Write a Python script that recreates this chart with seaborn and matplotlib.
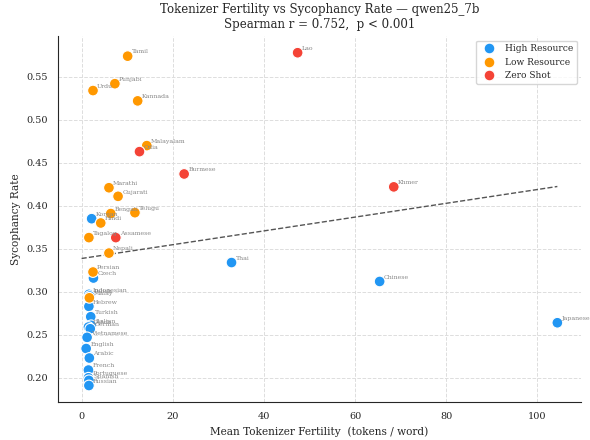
import numpy as np
import pandas as pd
import matplotlib
matplotlib.use('Agg')
import matplotlib.pyplot as plt
import seaborn as sns

# languages, fertility, sycophancy rate, group
high_langs = ['Korean', 'Thai', 'Czech', 'Chinese', 'Japanese', 'Indonesian', 'Polish',
              'Hebrew', 'Turkish', 'Italian', 'Dutch', 'German', 'Vietnamese', 'English',
              'Arabic', 'French', 'Portuguese', 'Spanish', 'Russian']
high_fert = [2.2, 32.9, 2.6, 65.4, 104.4, 1.6, 1.8,
             1.6, 2.0, 2.1, 1.5, 1.9, 1.2, 1.0,
             1.7, 1.5, 1.5, 1.6, 1.6]
high_syc = [0.385, 0.334, 0.316, 0.312, 0.264, 0.297, 0.295,
            0.283, 0.271, 0.261, 0.259, 0.257, 0.247, 0.234,
            0.223, 0.209, 0.200, 0.197, 0.191]

low_langs = ['Tamil', 'Punjabi', 'Urdu', 'Kannada', 'Malayalam', 'Marathi', 'Gujarati',
             'Bengali', 'Telugu', 'Hindi', 'Tagalog', 'Nepali', 'Persian', 'Malay']
low_fert = [10.1, 7.3, 2.5, 12.3, 14.3, 6.0, 8.0,
            6.4, 11.7, 4.2, 1.6, 6.0, 2.5, 1.7]
low_syc = [0.574, 0.542, 0.534, 0.522, 0.470, 0.421, 0.411,
           0.391, 0.392, 0.380, 0.363, 0.345, 0.323, 0.293]

zero_langs = ['Lao', 'Odia', 'Burmese', 'Khmer', 'Assamese']
zero_fert = [47.4, 12.7, 22.5, 68.5, 7.5]
zero_syc = [0.578, 0.463, 0.437, 0.422, 0.363]

df = pd.concat([
    pd.DataFrame({'lang': high_langs, 'fert': high_fert, 'syc': high_syc, 'group': 'High Resource'}),
    pd.DataFrame({'lang': low_langs, 'fert': low_fert, 'syc': low_syc, 'group': 'Low Resource'}),
    pd.DataFrame({'lang': zero_langs, 'fert': zero_fert, 'syc': zero_syc, 'group': 'Zero Shot'}),
], ignore_index=True)

palette = {'High Resource': '#2196F3', 'Low Resource': '#FF9800', 'Zero Shot': '#F44336'}

sns.set_style('white')
plt.rcParams['font.family'] = ['DejaVu Serif']

fig, ax = plt.subplots(figsize=(5.9, 4.4), dpi=100)
sns.scatterplot(data=df, x='fert', y='syc', hue='group', palette=palette,
                s=60, edgecolor='white', linewidth=0.8, ax=ax, zorder=3)

for _, r in df.iterrows():
    ax.annotate(r['lang'], (r['fert'], r['syc']), xytext=(3, 2), textcoords='offset points',
                fontsize=4.5, color='#888888')

# linear trend line
m, b = np.polyfit(df['fert'], df['syc'], 1)
xs = np.linspace(0, df['fert'].max(), 50)
ax.plot(xs, m * xs + b, '--', color='#555555', linewidth=1.0, zorder=2)

ax.grid(True, linestyle='--', color='#dddddd', linewidth=0.7)
sns.despine(ax=ax)
ax.set_xlabel('Mean Tokenizer Fertility  (tokens / word)', fontsize=7.6)
ax.set_ylabel('Sycophancy Rate', fontsize=7.6)
ax.set_title('Tokenizer Fertility vs Sycophancy Rate — qwen25_7b\nSpearman r = 0.752,  p < 0.001',
             fontsize=8.5)
ax.tick_params(labelsize=7)
ax.yaxis.set_major_formatter(matplotlib.ticker.FormatStrFormatter('%.2f'))
ax.legend(loc='upper right', fontsize=6.5, frameon=True)

fig.subplots_adjust(left=0.098, right=0.985, top=0.918, bottom=0.086)
plt.savefig('out.png', dpi=100)
